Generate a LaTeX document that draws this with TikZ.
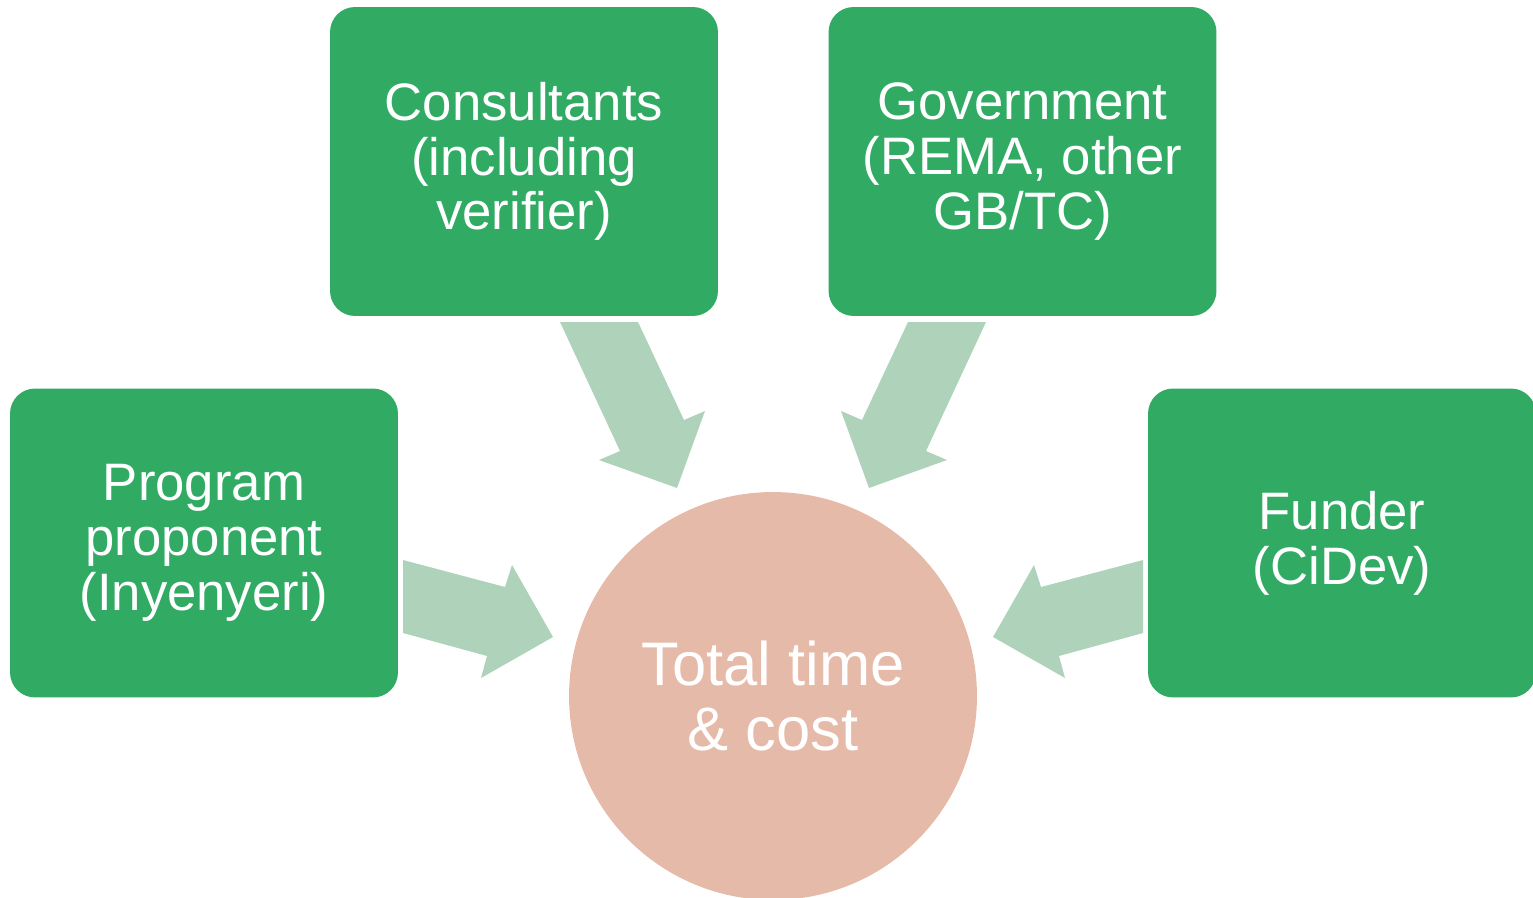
\documentclass[tikz,border=0pt]{standalone}
\usepackage{fontspec}
\setmainfont{Liberation Sans}
\usetikzlibrary{calc}
\definecolor{boxgreen}{HTML}{31AB64}
\definecolor{arrowgreen}{HTML}{AED3BA}
\definecolor{costpink}{HTML}{E6BAA8}
\tikzset{
	party/.style={fill=boxgreen, rounded corners=0.5cm, minimum width=7.76cm, minimum height=6.18cm, inner sep=0pt, text=white, align=center, font=\fontsize{30}{31.2}\selectfont},
	total/.style={circle, fill=costpink, minimum size=8.16cm, inner sep=0pt, text=white, align=center, font=\fontsize{35}{37}\selectfont},
	blockarrow/.style={fill=arrowgreen}
}

\begin{document}
\begin{tikzpicture}[x=0.02cm, y=-0.02cm]
		%%%%% START %%%%%
		
		\useasboundingbox (0,0) rectangle (1533,898);
		
		\node[party] (cons) at (524,161.5) {Consultants\\(including\\verifier)};
		\node[party] (gov) at (1022.5,161.5) {Government\\(REMA, other\\GB/TC)};
		\node[party] (prog) at (204,543) {Program\\proponent\\(Inyenyeri)};
		\node[party] (fund) at (1342,543) {Funder\\(CiDev)};
		
		\node[total] (cost) at (773,696) {Total time\\\& cost};
		
		% left half, then the same mirrored about the circle
		\fill[blockarrow] (403,560) -- (505,587) -- (512,565) -- (553,637) -- (481,678) -- (487,656) -- (403,633) -- cycle;
		\fill[blockarrow] (560,322) -- (638,322) -- (684,420) -- (705,411) -- (677,488) -- (599,460) -- (620,451) -- cycle;
		
		\begin{scope}[shift={(1546,0)}, xscale=-1]
			\fill[blockarrow] (403,560) -- (505,587) -- (512,565) -- (553,637) -- (481,678) -- (487,656) -- (403,633) -- cycle;
			\fill[blockarrow] (560,322) -- (638,322) -- (684,420) -- (705,411) -- (677,488) -- (599,460) -- (620,451) -- cycle;
		\end{scope}
		
		%%%%% END %%%%%
\end{tikzpicture}
\end{document}
